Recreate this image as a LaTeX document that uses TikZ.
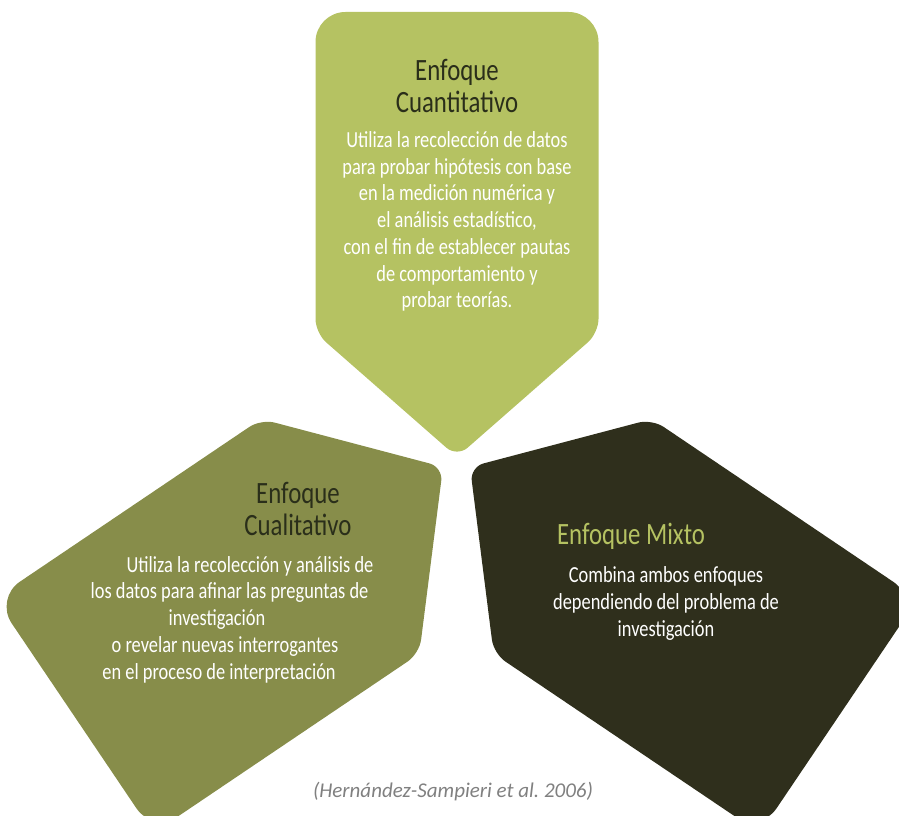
\documentclass[tikz,border=0pt]{standalone}
\usepackage{fontspec}
\setmainfont{Carlito}
\newfontfamily\condfont{Carlito}[FakeStretch=0.8]
\usetikzlibrary{positioning}
\definecolor{cuantic}{RGB}{181,194,98}
\definecolor{cualic}{RGB}{135,141,74}
\definecolor{mixtoc}{RGB}{47,47,28}
\definecolor{oscuro}{RGB}{42,46,26}
\definecolor{gris}{RGB}{128,128,128}
\tikzset{
  titulo/.style={font=\condfont\fontsize{31}{32}\selectfont, text=oscuro, align=center, inner sep=0pt},
  cuerpo/.style={font=\condfont\fontsize{23}{26.7}\selectfont, text=white, align=center, inner sep=0pt},
  fuente/.style={font=\itshape\fontsize{21}{24}\selectfont, text=gris, inner sep=0pt},
}

\begin{document}
\begin{tikzpicture}[x=1pt,y=1pt]
  \useasboundingbox (0,0) rectangle (899,816);
  \clip (0,0) rectangle (899,816);
  % three plates, tips towards the middle
  \foreach \ang/\tx/\ty/\col in {0/457/359/cuantic, 124/443/349/cualic, -124/470/349/mixtoc}{
    \fill[\col, shift={(\tx,\ty)}, rotate=\ang, rounded corners=14pt]
      (0,0) -- (141.5,124) [rounded corners=30pt] -- (141.5,445) -- (-141.5,445)
      [rounded corners=14pt] -- (-141.5,124) -- cycle;
  }
  % texts
  \node[titulo] (cuanti) at (457,730.5) {Enfoque\\Cuantitativo};
  \node[cuerpo] (cuantitxt) at (457,594.5) {Utiliza la recolección de datos\\para probar hipótesis con base\\en la medición numérica y\\el análisis estadístico,\\con el fin de establecer pautas\\de comportamiento y\\probar teorías.};
  \node[titulo] (cuali) at (298,307.5) {Enfoque\\Cualitativo};
  \node[cuerpo] (cualitxt) at (229.5,196.5) {\makebox[41pt]{}Utiliza la recolección y análisis de\\los datos para afinar las preguntas de\\investigación\makebox[25pt]{}\\o revelar nuevas interrogantes\makebox[9pt]{}\\en el proceso de interpretación\makebox[21pt]{}};
  \node[titulo, text=cuantic, anchor=base] (mixto) at (631,271) {Enfoque Mixto};
  \node[cuerpo] (mixtotxt) at (666,212.5) {Combina ambos enfoques\\dependiendo del problema de\\investigación};
  \node[fuente, anchor=base] (cita) at (453,18) {(Hernández-Sampieri et al.\ 2006)};
\end{tikzpicture}
\end{document}
